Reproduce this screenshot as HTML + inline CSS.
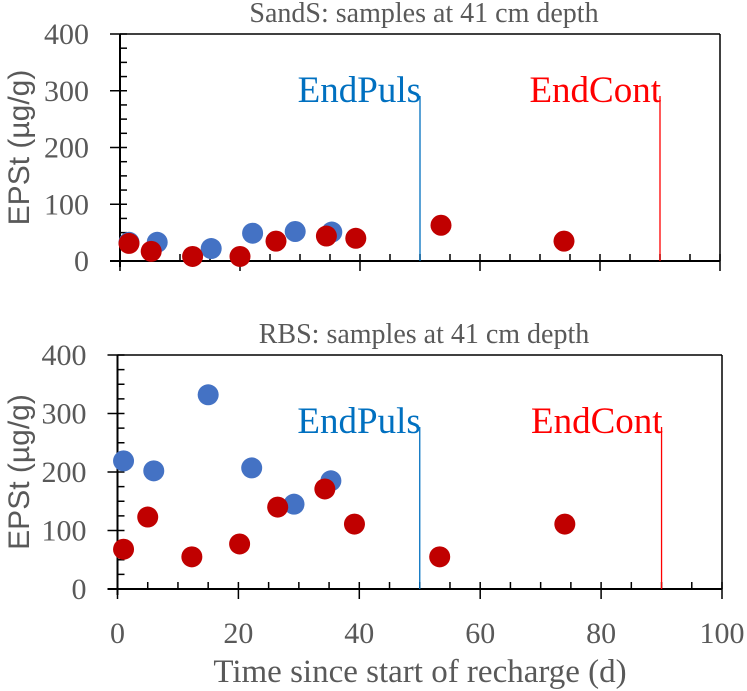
<!DOCTYPE html>
<html><head><meta charset="utf-8"><style>body{margin:0;background:#fff}svg{display:block}text{font-family:"Liberation Serif",serif}</style></head>
<body>
<svg id="c" width="747" height="691"></svg>
<script>
const xTicks=[0,20,40,60,80,100];
const yTicks=[0,100,200,300,400];
const topBlueT=[1.5,6.2,15.2,22.1,29.2,35.3];
const topBlueV=[33,33,22,49,52,51];
const topRedT=[1.5,5.2,12.1,20,26,34.4,39.3,53.5,74];
const topRedV=[31,17,8,8,35,44,40,63,35];
const botBlueT=[1,6,15,22.2,29.2,35.3];
const botBlueV=[219,202,332,207,145,185];
const botRedT=[1,5,12.3,20.2,26.5,34.3,39.2,53.3,74];
const botRedV=[68,123,55,77,140,171,111,55,111];
const markers=[{t:50,label:"EndPuls",color:"#0070C0"},{t:90,label:"EndCont",color:"#FF0000"}];
const NS="http://www.w3.org/2000/svg";
const svg=document.getElementById('c');
function el(tag,attrs,parent){const e=document.createElementNS(NS,tag);for(const k in attrs)e.setAttribute(k,attrs[k]);(parent||svg).appendChild(e);return e;}
function panel(p){
  const g=el('g',{});
  
  
  const X=t=>p.x0+(p.x1-p.x0)*t/100, Y=v=>p.y0-(p.y0-p.y1)*v/400;
  const t=el('text',{x:424,y:p.y1-12,'text-anchor':'middle','font-size':28,fill:'#595959'},g);t.textContent=p.title;
  
  el('line',{x1:p.x0,y1:p.y1,x2:X(100),y2:p.y1,stroke:'#000','stroke-width':1.5},g);
  el('line',{x1:X(100),y1:p.y1,x2:X(100),y2:p.y0,stroke:'#000','stroke-width':1.5},g);
  el('line',{x1:p.x0,y1:p.y1,x2:p.x0,y2:p.y0+6,stroke:'#000','stroke-width':2},g);
  el('line',{x1:p.x0-10,y1:p.y0,x2:X(100),y2:p.y0,stroke:'#000','stroke-width':2},g);
  for(let v=0;v<=400;v+=25){const maj=v%100===0;el('line',{x1:maj?p.x0-10:p.x0,y1:Y(v),x2:p.x0+7,y2:Y(v),stroke:'#000','stroke-width':1.5},g);}
  for(let tt=0;tt<=100;tt+=5){const maj=tt%20===0;el('line',{x1:X(tt),y1:p.y0-7,x2:X(tt),y2:maj?p.y0+10:p.y0,stroke:'#000','stroke-width':1.5},g);}
  yTicks.forEach(v=>{const e=el('text',{x:p.x0-31,y:Y(v)+10,'text-anchor':'end','font-size':30,fill:'#595959'},g);e.textContent=v;
    });
  const yt=el('text',{transform:`translate(29,${(p.y0+p.y1)/2}) rotate(-90)`,'text-anchor':'middle','font-size':30,fill:'#595959',style:'font-family:"Liberation Sans",sans-serif'},g);
  yt.textContent='EPSt (µg/g)';
  markers.forEach(m=>{
    const l=el('line',{x1:X(m.t),y1:p.lineTop,x2:X(m.t),y2:p.y0,stroke:m.color,'stroke-width':1.3},g);
    
    const tx=el('text',{x:X(m.t)+1,y:p.lineTop+6,'text-anchor':'end','font-size':37,fill:m.color},g);tx.textContent=m.label;
    
  });
  p.bT.forEach((tt,i)=>{const c=el('circle',{cx:X(tt),cy:Y(p.bV[i]),r:10.5,fill:'#4472C4'},g);});
  p.rT.forEach((tt,i)=>{const c=el('circle',{cx:X(tt),cy:Y(p.rV[i]),r:10.5,fill:'#C00000'},g);});
  return X;
}
panel({name:'sands-panel',title:'SandS: samples at 41 cm depth',x0:120,x1:720,y0:261,y1:34,lineTop:96,bT:topBlueT,bV:topBlueV,rT:topRedT,rV:topRedV});
const X=panel({name:'rbs-panel',title:'RBS: samples at 41 cm depth',x0:117.5,x1:722,y0:589,y1:355,lineTop:427,bT:botBlueT,bV:botBlueV,rT:botRedT,rV:botRedV});
xTicks.forEach(v=>{const e=el('text',{x:X(v),y:643,'text-anchor':'middle','font-size':30,fill:'#595959'});e.textContent=v;
  });
const xt=el('text',{x:420,y:682,'text-anchor':'middle','font-size':33,fill:'#595959'});xt.textContent='Time since start of recharge (d)';

</script>
</body></html>
